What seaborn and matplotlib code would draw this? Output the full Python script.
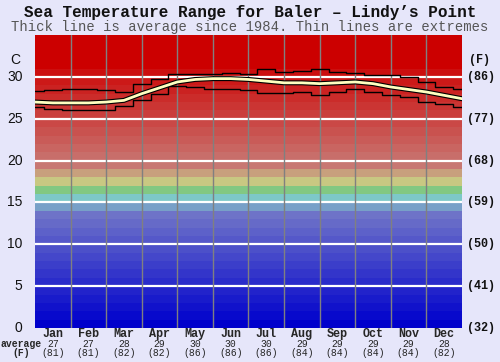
import numpy as np
import pandas as pd
import matplotlib
matplotlib.use('Agg')
import matplotlib.pyplot as plt
import seaborn as sns

# values (deg C), every half month
month_pos = np.arange(0, 12.5, 0.5)
avg_c = [27.0, 26.9, 26.9, 26.9, 27.0, 27.2, 28.0, 28.7, 29.4, 29.7, 29.8, 29.8, 29.7,
         29.5, 29.3, 29.3, 29.2, 29.3, 29.4, 29.2, 28.8, 28.5, 28.2, 27.8, 27.4]
max_c = [28.3, 28.5, 28.6, 28.6, 28.4, 28.2, 29.2, 29.8, 30.3, 30.3, 30.3, 30.5, 30.4,
         30.9, 30.6, 30.7, 31.0, 30.6, 30.5, 30.2, 30.2, 30.0, 29.4, 28.8, 28.6]
min_c = [26.4, 26.2, 26.0, 26.0, 26.1, 26.5, 27.3, 28.0, 28.9, 28.8, 28.6, 28.6, 28.4,
         28.1, 28.1, 28.2, 27.8, 28.2, 28.6, 28.2, 27.8, 27.6, 27.0, 26.8, 26.4]

months = ['Jan', 'Feb', 'Mar', 'Apr', 'May', 'Jun', 'Jul', 'Aug', 'Sep', 'Oct', 'Nov', 'Dec']
month_avg_c = [27, 27, 28, 29, 30, 30, 30, 29, 29, 29, 29, 28]
month_avg_f = [81, 81, 82, 82, 86, 86, 86, 84, 84, 84, 84, 82]
c_ticks = [0, 5, 10, 15, 20, 25, 30]
f_labels = ['(32)', '(41)', '(50)', '(59)', '(68)', '(77)', '(86)']

df = pd.DataFrame({'month': month_pos, 'avg': avg_c, 'max': max_c, 'min': min_c})

# colour of each 1-degree background band (band bottom -> rgb)
anchors = {0: (0, 0, 204), 13: (110, 115, 200), 14: (120, 160, 200), 15: (125, 200, 200),
           16: (130, 200, 130), 17: (200, 200, 130), 18: (200, 160, 125), 19: (200, 120, 115),
           30: (204, 15, 15), 31: (204, 0, 0), 35: (204, 0, 0)}
ak = sorted(anchors)

def band_color(t):
    rgb = [np.interp(t, ak, [anchors[k][i] for k in ak]) for i in range(3)]
    return tuple(v / 255 for v in rgb)

sns.set_style('white')
bg = '#e6e6fa'
fig = plt.figure(figsize=(5, 3.62), dpi=100, facecolor=bg)
ax = fig.add_axes([0.07, 0.094, 0.854, 0.809])
ax.set_facecolor(bg)

for t in range(35):
    ax.axhspan(t, t + 1, color=band_color(t), lw=0, zorder=0)
for t in c_ticks[1:]:
    ax.axhline(t, color='white', lw=1.6, zorder=1)
for m in range(1, 12):
    ax.axvline(m, color='#808080', lw=1, zorder=1)

sns.lineplot(data=df, x='month', y='max', ax=ax, color='black', lw=1.0, drawstyle='steps-mid', zorder=3)
sns.lineplot(data=df, x='month', y='min', ax=ax, color='black', lw=1.0, drawstyle='steps-mid', zorder=3)
sns.lineplot(data=df, x='month', y='avg', ax=ax, color='black', lw=3.6, zorder=4)
sns.lineplot(data=df, x='month', y='avg', ax=ax, color='#ffffc0', lw=2.0, zorder=5)

ax.set_xlim(0, 12)
ax.set_ylim(0, 35)
ax.set_xticks([])
ax.set_yticks([])
ax.set_xlabel('')
ax.set_ylabel('')
for s in ax.spines.values():
    s.set_visible(False)

mono = 'Liberation Mono'
for t, fl in zip(c_ticks, f_labels):
    ax.text(-0.35, t, str(t), ha='right', va='center', fontsize=10, family='Liberation Sans', color='#111111')
    ax.text(12.15, t, fl, ha='left', va='center', fontsize=8.5, family=mono, weight='bold', color='#111111')
ax.text(-0.55, 32.0, 'C', ha='center', va='center', fontsize=10, family='Liberation Sans', color='#111111')
ax.text(12.5, 32.0, '(F)', ha='center', va='center', fontsize=8.5, family=mono, weight='bold', color='#111111')

for i, m in enumerate(months):
    ax.text(i + 0.5, -0.75, m, ha='center', va='center', fontsize=8.5, family=mono, weight='bold')
    ax.text(i + 0.5, -1.9, str(month_avg_c[i]), ha='center', va='center', fontsize=7, family=mono)
    ax.text(i + 0.5, -3.05, '(%d)' % month_avg_f[i], ha='center', va='center', fontsize=7, family=mono)
ax.text(-0.4, -1.9, 'average', ha='center', va='center', fontsize=7, family=mono, weight='bold')
ax.text(-0.4, -3.05, '(F)', ha='center', va='center', fontsize=7, family=mono, weight='bold')

fig.text(0.5, 0.965, 'Sea Temperature Range for Baler \u2013 Lindy\u2019s Point', ha='center', va='center',
         fontsize=11.5, family=mono, weight='bold', color='#111111')
fig.text(0.5, 0.925, 'Thick line is average since 1984. Thin lines are extremes', ha='center', va='center',
         fontsize=10, family=mono, color='#555555')

fig.savefig('out.png', dpi=100, facecolor=bg)
